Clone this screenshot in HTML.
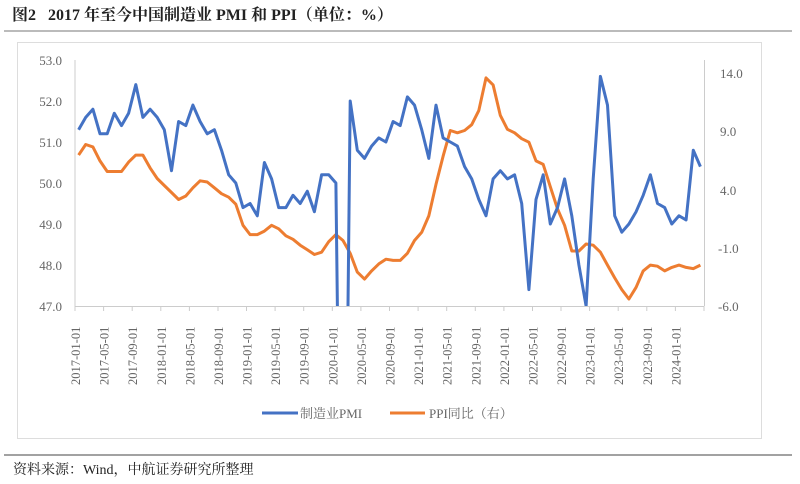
<!DOCTYPE html>
<html><head><meta charset="utf-8"><style>
html,body{margin:0;padding:0;background:#fff;width:800px;height:484px;overflow:hidden;position:relative}
svg{display:block;position:absolute;left:0;top:0;overflow:hidden}
</style></head><body>
<svg id="s" width="800" height="484" viewBox="0 0 800 484" xmlns="http://www.w3.org/2000/svg" font-family="'Liberation Serif','Noto Serif CJK SC',serif">
<text x="12" y="20" font-size="16" font-weight="bold" fill="#222">图2</text>
<text x="48" y="20" font-size="16" font-weight="bold" fill="#222">2017 年至今中国制造业 PMI 和 PPI（单位：%）</text>
<line x1="4" y1="31" x2="792" y2="31" stroke="#777" stroke-width="1"/>
<rect x="17.5" y="42.5" width="744" height="396" fill="#fff" stroke="#ddd" stroke-width="1"/>
<g font-size="13" fill="#666">
<text x="62" y="65" text-anchor="end">53.0</text>
<text x="62" y="106" text-anchor="end">52.0</text>
<text x="62" y="147" text-anchor="end">51.0</text>
<text x="62" y="188" text-anchor="end">50.0</text>
<text x="62" y="229" text-anchor="end">49.0</text>
<text x="62" y="270" text-anchor="end">48.0</text>
<text x="62" y="311" text-anchor="end">47.0</text>
<text x="720" y="78">14.0</text>
<text x="720" y="136">9.0</text>
<text x="720" y="195">4.0</text>
<text x="718" y="253">-1.0</text>
<text x="718" y="311">-6.0</text>
</g>
<line x1="75" y1="60" x2="75" y2="306" stroke="#ccc"/>
<line x1="704.5" y1="60" x2="704.5" y2="306" stroke="#ccc"/>
<line x1="75" y1="306.5" x2="704" y2="306.5" stroke="#ccc"/>
<g id="ticks" font-size="12.5" fill="#666"></g>
<defs><clipPath id="c"><rect x="70" y="50" width="640" height="256"/></clipPath></defs>
<polyline id="ppi" fill="none" stroke="#ED7D31" stroke-width="3" stroke-linejoin="round" clip-path="url(#c)"/>
<polyline id="pmi" fill="none" stroke="#4472C4" stroke-width="3" stroke-linejoin="round" clip-path="url(#c)"/>
<line x1="262" y1="413" x2="298" y2="413" stroke="#4472C4" stroke-width="3"/>
<text x="300" y="418" font-size="13" fill="#666">制造业PMI</text>
<line x1="390" y1="413" x2="425" y2="413" stroke="#ED7D31" stroke-width="3"/>
<text x="429" y="418" font-size="13" fill="#666">PPI同比（右）</text>
<line x1="4" y1="455" x2="792" y2="455" stroke="#444" stroke-width="1"/>
<text x="13" y="474" font-size="14" fill="#222">资料来源：Wind，中航证券研究所整理</text>
</svg>
<script>
var pmi=[51.3,51.6,51.8,51.2,51.2,51.7,51.4,51.7,52.4,51.6,51.8,51.6,
51.3,50.3,51.5,51.4,51.9,51.5,51.2,51.3,50.8,50.2,50.0,49.4,
49.5,49.2,50.5,50.1,49.4,49.4,49.7,49.5,49.8,49.3,50.2,50.2,
50.0,35.7,52.0,50.8,50.6,50.9,51.1,51.0,51.5,51.4,52.1,51.9,
51.3,50.6,51.9,51.1,51.0,50.9,50.4,50.1,49.6,49.2,50.1,50.3,
50.1,50.2,49.5,47.4,49.6,50.2,49.0,49.4,50.1,49.2,48.0,47.0,
50.1,52.6,51.9,49.2,48.8,49.0,49.3,49.7,50.2,49.5,49.4,49.0,
49.2,49.1,50.8,50.4];
var ppi=[6.9,7.8,7.6,6.4,5.5,5.5,5.5,6.3,6.9,6.9,5.8,4.9,
4.3,3.7,3.1,3.4,4.1,4.7,4.6,4.1,3.6,3.3,2.7,0.9,
0.1,0.1,0.4,0.9,0.6,0.0,-0.3,-0.8,-1.2,-1.6,-1.4,-0.5,
0.1,-0.4,-1.5,-3.1,-3.7,-3.0,-2.4,-2.0,-2.1,-2.1,-1.5,-0.4,
0.3,1.7,4.4,6.8,9.0,8.8,9.0,9.5,10.7,13.5,12.9,10.3,
9.1,8.8,8.3,8.0,6.4,6.1,4.2,2.3,0.9,-1.3,-1.3,-0.7,
-0.8,-1.4,-2.5,-3.6,-4.6,-5.4,-4.4,-3.0,-2.5,-2.6,-3.0,-2.7,
-2.5,-2.7,-2.8,-2.5];
var W=(704-75)/88;
function X(i){return 75+(i+0.5)*W;}
document.getElementById('pmi').setAttribute('points',pmi.map(function(v,i){return X(i).toFixed(1)+','+(306-(v-47)*41).toFixed(1)}).join(' '));
document.getElementById('ppi').setAttribute('points',ppi.map(function(v,i){return X(i).toFixed(1)+','+(306-(v+6)*11.7).toFixed(1)}).join(' '));
var g=document.getElementById('ticks'),h='';
var mons=['01','05','09'];
for(var k=0;k<=22;k++){var i=k*4;var x=75+i*W;
h+='<line x1="'+x.toFixed(1)+'" y1="306" x2="'+x.toFixed(1)+'" y2="311" stroke="#ccc"/>';
if(k<22){var y=2017+Math.floor(i/12),m=mons[(i%12)/4];
h+='<text transform="translate('+(x+5).toFixed(1)+',385) rotate(-90)">'+y+'-'+m+'-01</text>';}}
g.innerHTML=h;
</script>
</body></html>
